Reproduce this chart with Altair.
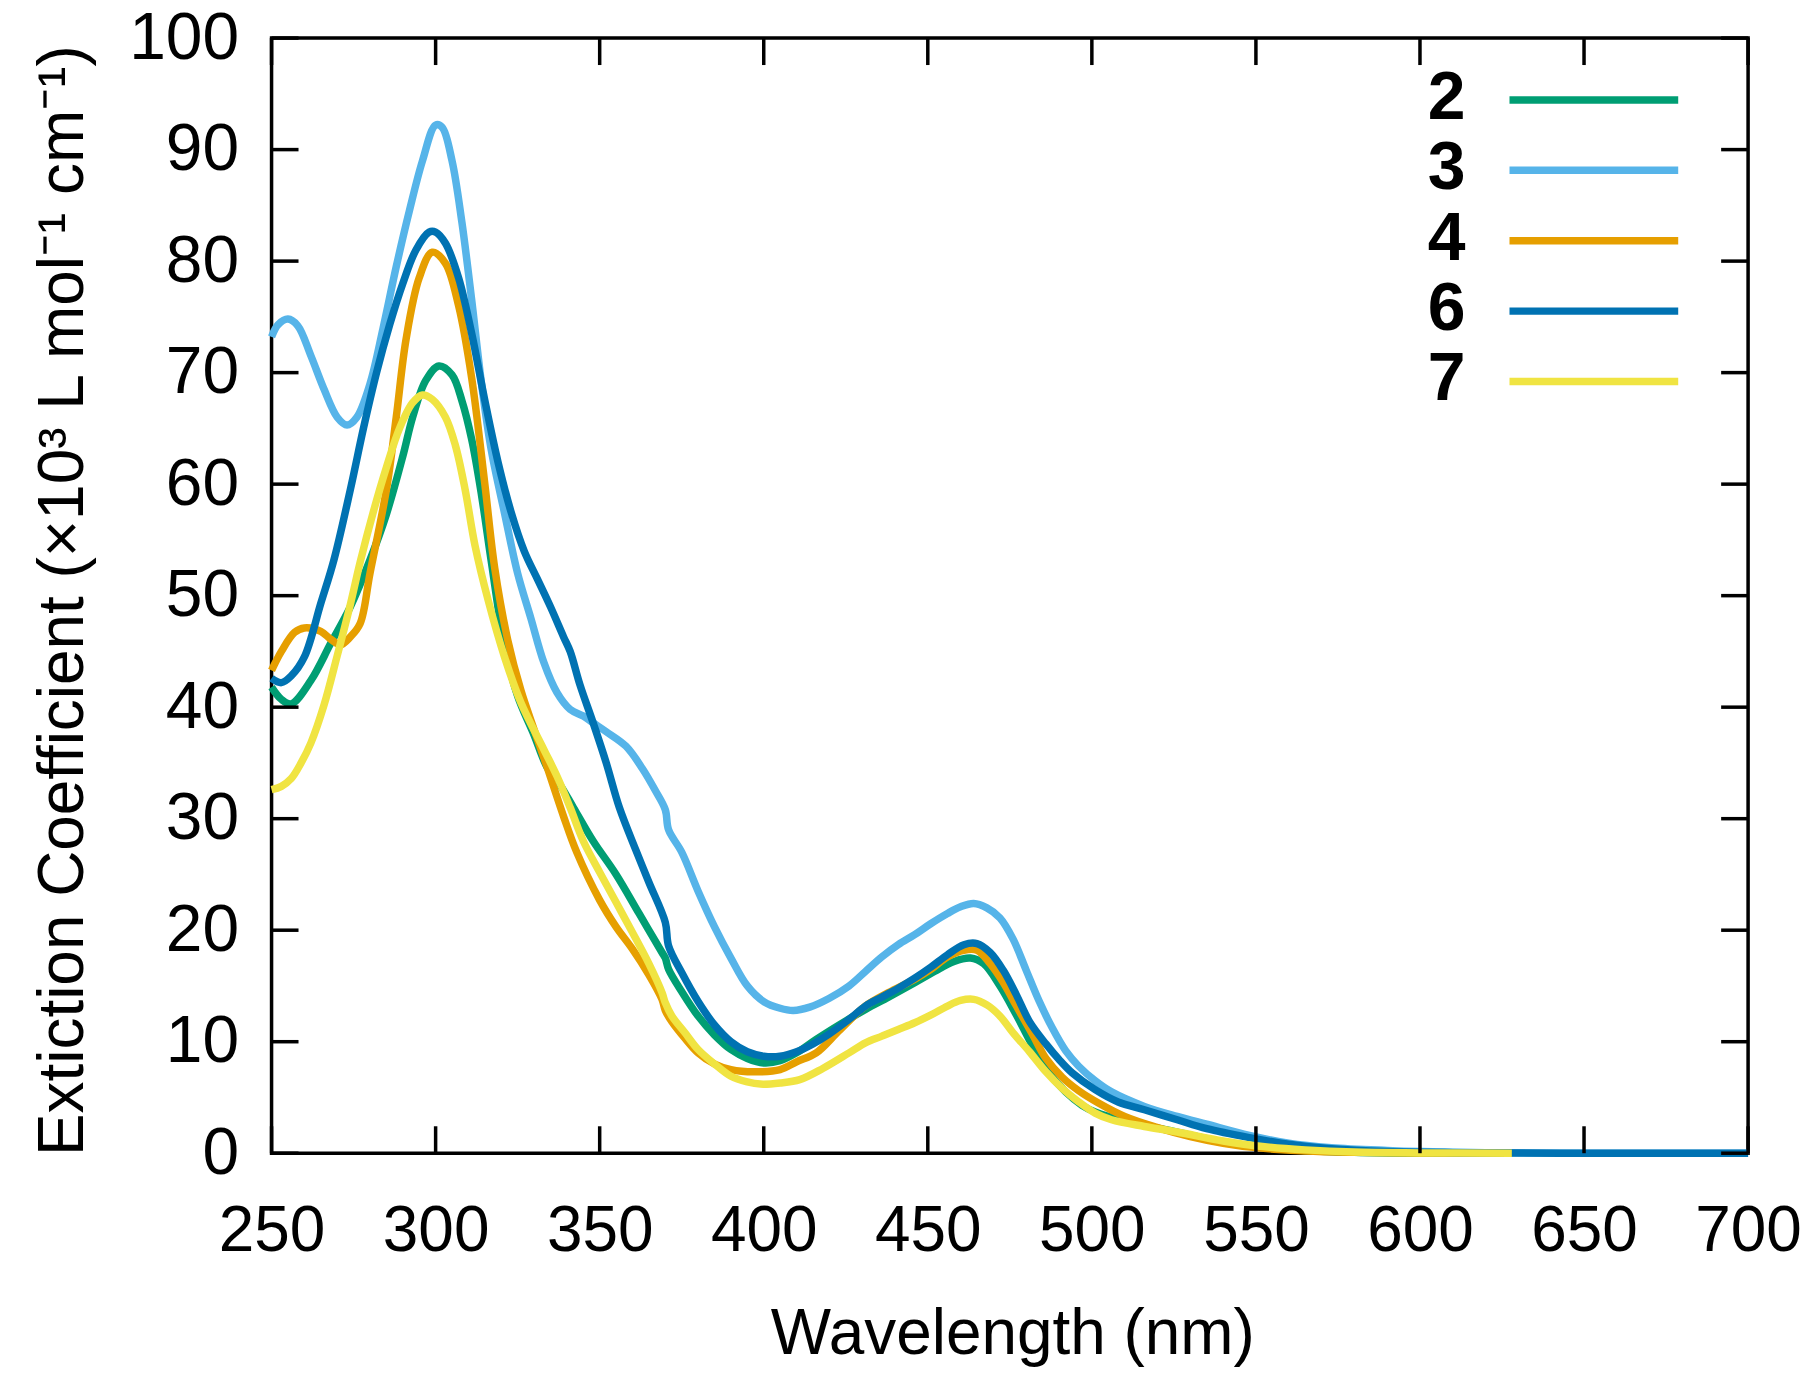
import altair as alt
import pandas as pd

# ---- data ----
series_names = ["2", "3", "4", "6", "7"]
series_colors = ["#009E73", "#56B4E9", "#E69F00", "#0072B2", "#F0E442"]

wl_2 = [250, 253, 256, 262, 268, 274, 280, 285, 290, 293, 297, 301, 305, 308, 311, 314, 317, 321, 325,
        330, 334, 338, 342, 348, 355, 362, 369, 370, 371, 375, 380, 385, 390, 395, 400, 405, 410, 416, 423,
        431, 438, 446, 452, 458, 463, 467, 472, 477, 482, 487, 492, 497, 501, 510, 526, 540, 550, 565,
        580, 600, 628]
eps_2 = [41.8, 40.7, 40.3, 42.4, 45.7, 49.0, 53.2, 57.3, 62.5, 66.0, 69.3, 70.6, 69.8, 67.5, 64.0, 59.0, 53.0, 45.5, 41.0,
         37.5, 34.6, 33.0, 31.0, 28.0, 25.0, 21.5, 18.0, 17.5, 16.5, 14.5, 12.3, 10.6, 9.3, 8.5, 8.1, 8.3, 9.0, 10.2, 11.5,
         12.9, 14.0, 15.3, 16.3, 17.2, 17.5, 17.0, 15.0, 12.4, 9.6, 7.2, 5.5, 4.3, 3.7, 2.9, 1.9, 1.0, 0.6, 0.25,
         0.08, 0.0, 0.0]

wl_3 = [250, 252, 255, 258, 262, 266, 270, 273, 276, 280, 284, 288, 292, 296, 300, 302, 305, 308, 311, 314,
        317, 321, 325, 329, 333, 337, 341, 345, 348, 352, 358, 363, 367, 370, 371, 375, 380, 385, 390, 395,
        400, 405, 409, 414, 420, 426, 431, 436, 441, 446, 451, 456, 460, 464, 468, 472, 476, 480, 484, 488,
        492, 496, 501, 506, 516, 526, 535, 548, 560, 573, 590, 600, 620, 650, 700]
eps_3 = [73.2, 74.3, 74.8, 74.2, 71.5, 68.5, 66.0, 65.3, 66.0, 69.0, 74.0, 79.5, 84.5, 89.0, 92.2, 92.0, 89.0, 83.5, 76.5, 69.0,
         63.0, 57.4, 52.0, 48.0, 44.0, 41.3, 39.8, 39.2, 38.6, 37.8, 36.5, 34.5, 32.5, 30.8, 29.0, 27.0, 23.5, 20.3, 17.5, 15.0,
         13.6, 13.0, 12.8, 13.1, 13.9, 15.0, 16.3, 17.6, 18.7, 19.6, 20.6, 21.5, 22.1, 22.4, 22.0, 21.1, 19.2, 16.4, 13.6, 11.2,
         9.2, 7.8, 6.5, 5.5, 4.2, 3.3, 2.6, 1.6, 0.9, 0.5, 0.25, 0.15, 0.05, 0.0, 0.0]

wl_4 = [250, 253, 257, 260, 265, 268, 271, 274, 277, 280, 285, 288, 291, 295, 299, 303, 307, 311, 315, 318,
        322, 326, 330, 334, 339, 343, 350, 355, 360, 365, 369, 370, 372, 376, 380, 385, 390, 397, 405, 410,
        416, 423, 431, 438, 446, 451, 456, 461, 465, 469, 473, 477, 482, 486, 491, 496, 502, 510, 520, 530,
        540, 550, 565, 580, 600, 628]
eps_4 = [43.3, 45.0, 46.7, 47.1, 46.8, 46.1, 45.6, 46.3, 47.5, 52.0, 59.5, 66.0, 73.0, 78.5, 80.8, 79.8, 76.0, 69.5, 60.0, 52.5,
         46.0, 41.5, 38.0, 34.6, 30.2, 27.0, 22.7, 20.3, 18.3, 16.0, 13.8, 12.8, 11.8, 10.3, 9.0, 8.0, 7.5, 7.3, 7.5, 8.2,
         9.0, 11.0, 13.2, 14.4, 15.6, 16.5, 17.6, 18.2, 18.2, 17.0, 15.3, 13.2, 10.6, 8.5, 6.8, 5.6, 4.5, 3.3, 2.3, 1.5,
         0.9, 0.5, 0.2, 0.08, 0.02, 0.0]

wl_6 = [250, 253, 256, 260, 265, 269, 274, 278, 282, 286, 290, 294, 298, 300, 303, 307, 311, 315, 319,
        323, 327, 331, 335, 339, 341, 344, 348, 352, 356, 361, 365, 370, 371, 375, 380, 385, 390, 395, 400,
        405, 410, 415, 420, 426, 431, 436, 441, 446, 451, 456, 461, 465, 469, 473, 477, 481, 486, 490, 494,
        501, 508, 516, 526, 535, 548, 560, 573, 590, 610, 650, 700]
eps_6 = [42.6, 42.2, 42.8, 44.5, 49.3, 53.2, 59.5, 65.0, 70.0, 74.3, 78.0, 81.0, 82.6, 82.6, 81.6, 78.5, 73.5, 67.5, 62.0,
         57.5, 54.0, 51.5, 49.0, 46.3, 45.0, 42.0, 38.6, 35.0, 31.0, 27.2, 24.3, 20.7, 18.6, 16.2, 13.6, 11.5, 10.0, 9.1, 8.7,
         8.7, 9.1, 9.8, 10.7, 12.0, 13.2, 14.0, 14.8, 15.7, 16.7, 17.8, 18.7, 18.8, 18.0, 16.4, 14.2, 11.8, 9.8, 8.4, 7.2,
         5.7, 4.6, 3.9, 3.0, 2.2, 1.4, 0.8, 0.4, 0.15, 0.05, 0.0, 0.0]

wl_7 = [250, 253, 256, 259, 262, 266, 270, 274, 277, 281, 285, 289, 293, 296, 299, 303, 306, 309, 312, 316,
        321, 326, 333, 337, 341, 345, 350, 355, 360, 365, 369, 370, 372, 376, 380, 385, 390, 395, 399, 405,
        411, 418, 426, 431, 436, 441, 446, 451, 456, 460, 464, 468, 472, 476, 481, 486, 491, 496, 501, 506,
        516, 526, 540, 552, 565, 580, 600, 628]
eps_7 = [32.6, 32.9, 33.6, 35.0, 36.8, 40.2, 44.6, 49.2, 53.0, 57.5, 61.5, 65.0, 67.3, 68.0, 67.6, 66.0, 63.5, 59.5, 54.5, 49.6,
         44.5, 40.4, 36.2, 33.8, 31.0, 28.0, 25.2, 22.5, 19.8, 17.0, 14.4, 13.5, 12.3, 10.8, 9.3, 8.0, 6.9, 6.4, 6.2, 6.3,
         6.6, 7.6, 9.0, 9.9, 10.5, 11.1, 11.7, 12.4, 13.2, 13.7, 13.8, 13.3, 12.3, 10.8, 9.1, 7.3, 5.8, 4.6, 3.6, 3.0,
         2.4, 1.9, 1.1, 0.6, 0.3, 0.1, 0.03, 0.0]

x_ticks = [250, 300, 350, 400, 450, 500, 550, 600, 650, 700]
y_ticks = [0, 10, 20, 30, 40, 50, 60, 70, 80, 90, 100]

x_title = "Wavelength (nm)"
y_title = "Extiction Coefficient (×10³ L mol⁻¹ cm⁻¹)"

# ---- build table ----
rows = []
for name, wl, eps in zip(series_names, [wl_2, wl_3, wl_4, wl_6, wl_7], [eps_2, eps_3, eps_4, eps_6, eps_7]):
    for a, b in zip(wl, eps):
        rows.append({"series": name, "wl": a, "eps": b})
df = pd.DataFrame(rows)
legend_df = pd.DataFrame({"series": series_names})

W, H = 1479, 1117
TICK = 27
FONT = "Liberation Sans"

xscale = alt.Scale(domain=[250, 700], nice=False, zero=False)
yscale = alt.Scale(domain=[0, 100], nice=False, zero=False)
cscale = alt.Scale(domain=series_names, range=series_colors)
legend_y = alt.Y("series:N", scale=alt.Scale(type="point", domain=series_names, range=[62, 344], padding=0),
                 axis=None)

x_axis = alt.Axis(values=x_ticks, title=x_title, labelPadding=97, labelBaseline="alphabetic",
                  labelFlush=False, labelOverlap=False, labelFontSize=64,
                  titleY=201, titleX=742, titleBaseline="alphabetic", titleFontSize=64)
y_axis = alt.Axis(values=y_ticks, title=y_title, labelPadding=33, labelFlush=False, labelOverlap=False,
                  labelFontSize=66,
                  titleX=-189, titleY=563, titleAlign="center",
                  titleBaseline="alphabetic", titleAngle=270, titleFontSize=64)

lines = alt.Chart(df).mark_line(strokeWidth=7.5, interpolate="catmull-rom").encode(
    x=alt.X("wl:Q", scale=xscale, axis=x_axis),
    y=alt.Y("eps:Q", scale=yscale, axis=y_axis),
    color=alt.Color("series:N", scale=cscale, legend=None),
)

xt = pd.DataFrame({"wl": x_ticks})
yt = pd.DataFrame({"eps": y_ticks})
rule = dict(color="black", strokeWidth=3.5)

bottom = alt.Chart(xt).mark_rule(**rule).encode(
    x=alt.X("wl:Q", scale=xscale, axis=x_axis), y=alt.value(H), y2=alt.value(H - TICK))
top = alt.Chart(xt).mark_rule(**rule).encode(
    x=alt.X("wl:Q", scale=xscale, axis=x_axis), y=alt.value(0), y2=alt.value(TICK))
left = alt.Chart(yt).mark_rule(**rule).encode(
    y=alt.Y("eps:Q", scale=yscale, axis=None), x=alt.value(0), x2=alt.value(TICK))
right = alt.Chart(yt).mark_rule(**rule).encode(
    y=alt.Y("eps:Q", scale=yscale, axis=None), x=alt.value(W), x2=alt.value(W - TICK))

leg_lines = alt.Chart(legend_df).mark_rule(strokeWidth=7.5).encode(
    y=legend_y, x=alt.value(1240), x2=alt.value(1409),
    color=alt.Color("series:N", scale=cscale, legend=None))
leg_text = alt.Chart(legend_df).mark_text(
    font=FONT, fontWeight="bold", fontSize=68, align="right", baseline="middle",
    color="black", dy=-1).encode(
    y=legend_y, x=alt.value(1196), text="series:N")

chart = alt.layer(lines, bottom, top, left, right, leg_lines, leg_text).resolve_scale(
    y="independent"
).properties(
    width=W, height=H,
    autosize=alt.AutoSizeParams(type="none"),
    padding={"left": 264, "top": 29, "right": 54, "bottom": 215},
).configure_view(
    stroke="black", strokeWidth=3.5
).configure_axis(
    domain=False, ticks=False, grid=False,
    labelFont=FONT, labelColor="black",
    titleFont=FONT, titleFontWeight="normal", titleColor="black",
)

chart.save("out.html", embed_options={"renderer": "svg", "actions": False})
